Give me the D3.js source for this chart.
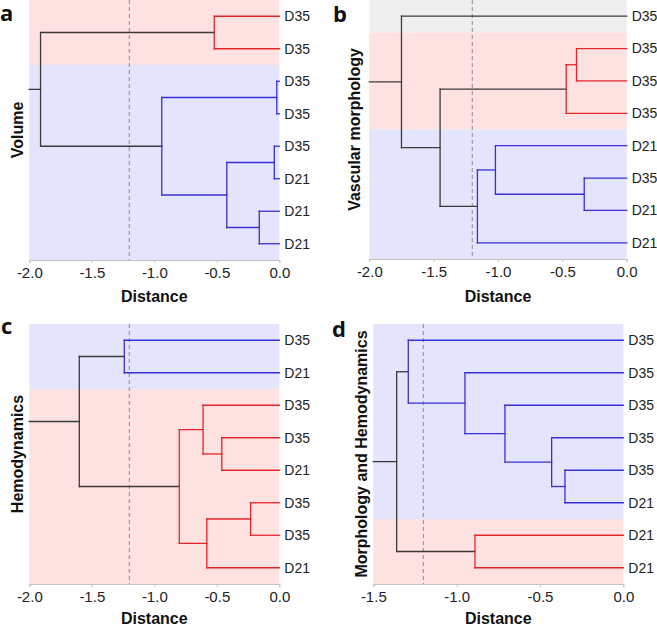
<!DOCTYPE html>
<html>
<head>
<meta charset="utf-8">
<script src="https://cdn.jsdelivr.net/npm/d3@7"></script>
<style>
  body { margin: 0; background: #fff; }
  svg { display: block; font-family: "Liberation Sans", Arial, sans-serif; }
</style>
</head>
<body>
<svg id="chart" width="657" height="626"></svg>
<script>
// leaf labels, top to bottom
const leavesA = ["D35", "D35", "D35", "D35", "D35", "D21", "D21", "D21"];
const leavesB = ["D35", "D35", "D35", "D35", "D21", "D35", "D21", "D21"];
const leavesC = ["D35", "D21", "D35", "D35", "D21", "D35", "D35", "D21"];
const leavesD = ["D35", "D35", "D35", "D35", "D35", "D21", "D21", "D21"];

// merges: [child1, child2, distance, colour]; index < 8 is a leaf, 8+k is merge k
const mergesA = [[0, 1, -0.52, "r"], [2, 3, -0.02, "b"], [4, 5, -0.04, "b"], [6, 7, -0.16, "b"],
                 [10, 11, -0.42, "b"], [9, 12, -0.94, "b"], [8, 13, -1.91, "k"]];
const mergesB = [[1, 2, -0.39, "r"], [8, 3, -0.47, "r"], [5, 6, -0.33, "b"], [4, 10, -1.02, "b"],
                 [11, 7, -1.16, "b"], [9, 12, -1.45, "k"], [0, 13, -1.75, "k"]];
const mergesC = [[0, 1, -1.24, "b"], [3, 4, -0.46, "r"], [2, 9, -0.61, "r"], [5, 6, -0.23, "r"],
                 [11, 7, -0.58, "r"], [10, 12, -0.80, "r"], [8, 13, -1.60, "k"]];
const mergesD = [[4, 5, -0.35, "b"], [3, 8, -0.43, "b"], [2, 9, -0.71, "b"], [1, 10, -0.95, "b"],
                 [0, 11, -1.29, "b"], [6, 7, -0.89, "r"], [12, 13, -1.36, "k"]];

// shaded groups: [first leaf, last leaf + 1, shade]
const bandsA = [[0, 2, "pink"], [2, 8, "lav"]];
const bandsB = [[0, 1, "grey"], [1, 4, "pink"], [4, 8, "lav"]];
const bandsC = [[0, 2, "lav"], [2, 8, "pink"]];
const bandsD = [[0, 6, "lav"], [6, 8, "pink"]];

const domainA = [-2, 0], domainB = [-2, 0], domainC = [-2, 0], domainD = [-1.5, 0];
const cutoff = -1.2;

const lineColor = { r: "#e3262b", b: "#3a2fd6", k: "#3a3a3a" };
const shade = { pink: "#fee2e2", lav: "#e4e4fc", grey: "#efefef" };

const svg = d3.select("#chart");

function drawPanel(p) {
  const n = p.leaves.length;
  const g = svg.append("g").attr("transform", `translate(${p.x0},${p.y0})`);
  const w = p.x1 - p.x0, h = p.h;
  const x = d3.scaleLinear().domain(p.domain).range([0, w]);
  const band = d3.scaleBand().domain(d3.range(n)).range([0, h]);

  // background groups
  g.selectAll("rect.bg").data(p.bands).enter().append("rect")
    .attr("x", 0).attr("width", w)
    .attr("y", d => band(d[0]))
    .attr("height", d => band.step() * (d[1] - d[0]))
    .attr("fill", d => shade[d[2]]);

  // cut-off line
  g.append("line")
    .attr("x1", x(cutoff)).attr("x2", x(cutoff))
    .attr("y1", 0).attr("y2", h)
    .attr("stroke", "#8a8a8a").attr("stroke-width", 1)
    .attr("stroke-dasharray", "4,3");

  // build hierarchy from merge list
  function build(i) {
    if (i < n) return { name: p.leaves[i], dist: 0 };
    const m = p.merges[i - n];
    return { dist: m[2], color: m[3], children: [build(m[0]), build(m[1])] };
  }
  const root = d3.hierarchy(build(n + p.merges.length - 1));
  d3.cluster().size([h, 1]).separation(() => 1)(root);

  const segs = [];
  root.each(node => {
    if (!node.children) return;
    const c = lineColor[node.data.color];
    const px = x(node.data.dist);
    const ys = node.children.map(ch => ch.x);
    segs.push({ x1: px, x2: px, y1: d3.min(ys), y2: d3.max(ys), c });
    node.children.forEach(ch => {
      segs.push({ x1: px, x2: x(ch.data.dist), y1: ch.x, y2: ch.x, c });
    });
  });
  segs.push({ x1: x(p.domain[0]), x2: x(root.data.dist), y1: root.x, y2: root.x, c: lineColor.k });

  g.selectAll("line.seg").data(segs).enter().append("line")
    .attr("x1", d => d.x1).attr("x2", d => d.x2)
    .attr("y1", d => d.y1).attr("y2", d => d.y2)
    .attr("stroke", d => d.c).attr("stroke-width", 1.3)
    .attr("stroke-linecap", "square");

  // leaf labels
  g.selectAll("text.leaf").data(root.leaves()).enter().append("text")
    .attr("x", w + 5).attr("y", d => d.x)
    .attr("dy", "0.35em")
    .attr("font-size", 14).attr("fill", "#222")
    .text(d => d.data.name);

  // axis with minor ticks
  const major = d3.range(p.domain[0], p.domain[1] + 0.01, 0.5);
  const minor = d3.range(Math.round(p.domain[0] * 10), 1).map(v => v / 10);
  const ax = g.append("g").attr("transform", `translate(0,${h})`);
  ax.call(d3.axisBottom(x).tickValues(minor).tickSize(3).tickFormat(""));
  ax.call(d3.axisBottom(x).tickValues(major).tickSize(3).tickPadding(4).tickFormat(d => d.toFixed(1)));
  ax.selectAll("path.domain, line").attr("stroke", "#c4c4c4");
  ax.selectAll("text").attr("font-size", 15).attr("fill", "#222")
    .attr("font-family", "Liberation Sans, Arial, sans-serif");

  g.append("text")
    .attr("x", w / 2).attr("y", p.titleY - p.y0)
    .attr("text-anchor", "middle")
    .attr("font-size", 16).attr("font-weight", "bold").attr("fill", "#111")
    .text("Distance");

  g.append("text")
    .attr("transform", `translate(${p.yLabelX - p.x0},${h / 2}) rotate(-90)`)
    .attr("text-anchor", "middle").attr("dy", "0.35em")
    .attr("font-size", 16).attr("font-weight", "bold").attr("fill", "#111")
    .text(p.title);

  svg.append("text")
    .attr("x", p.letterX).attr("y", p.letterY)
    .attr("font-size", 22).attr("font-weight", "bold").attr("fill", "#111")
    .attr("font-family", "Open Sans, Liberation Sans, sans-serif")
    .text(p.letter);
}

drawPanel({ leaves: leavesA, merges: mergesA, bands: bandsA, domain: domainA, titleY: 302,
  x0: 29.3, x1: 279.3, y0: 0, h: 260, title: "Volume", yLabelX: 17, letter: "a", letterX: 0, letterY: 21 });
drawPanel({ leaves: leavesB, merges: mergesB, bands: bandsB, domain: domainB, titleY: 302,
  x0: 369.3, x1: 626.7, y0: 0, h: 259, title: "Vascular morphology", yLabelX: 354, letter: "b", letterX: 333, letterY: 22 });
drawPanel({ leaves: leavesC, merges: mergesC, bands: bandsC, domain: domainC, titleY: 624,
  x0: 29.3, x1: 279.3, y0: 324, h: 260, title: "Hemodynamics", yLabelX: 17, letter: "c", letterX: 1, letterY: 334 });
drawPanel({ leaves: leavesD, merges: mergesD, bands: bandsD, domain: domainD, titleY: 624,
  x0: 373.3, x1: 623.3, y0: 324, h: 260, title: "Morphology and Hemodynamics", yLabelX: 361, letter: "d", letterX: 332, letterY: 337 });
</script>
</body>
</html>
